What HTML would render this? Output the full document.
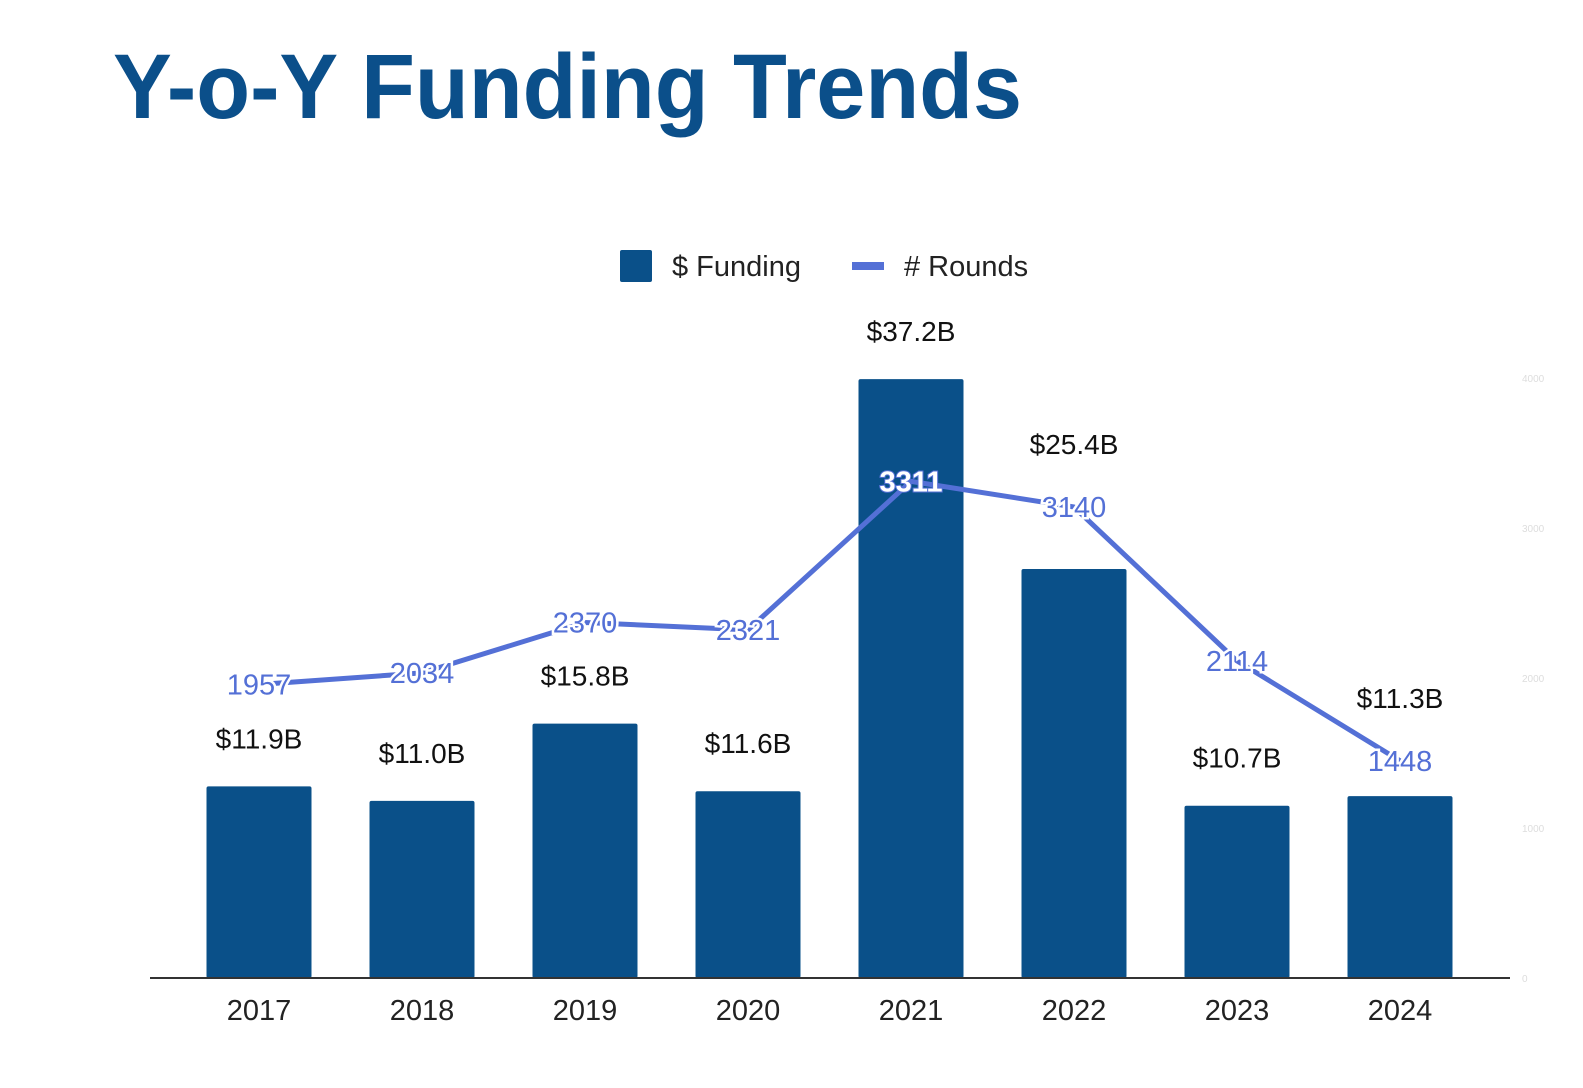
<!DOCTYPE html>
<html><head><meta charset="utf-8"><style>
html,body{margin:0;padding:0;background:#fff;overflow:hidden;}
svg{display:block;font-family:"Liberation Sans",sans-serif;}
</style></head><body>
<svg id="chart" width="1583" height="1088" viewBox="0 0 1583 1088" xmlns="http://www.w3.org/2000/svg">
<text x="113" y="118" font-size="92" font-weight="bold" fill="#0b4f8a" textLength="909" lengthAdjust="spacingAndGlyphs">Y-o-Y Funding Trends</text>
<g>
<rect x="620" y="250" width="32" height="32" rx="2" fill="#0a5089"/>
<text x="672" y="276" font-size="29" fill="#222">$ Funding</text>
<rect x="852" y="262" width="32" height="8" fill="#5470d6"/>
<text x="904" y="276" font-size="29" fill="#222">#&#160;Rounds</text>
</g>
<g id="bars"></g><g id="line"></g><g id="labels"></g><g id="axes"></g>
</svg>
<script>
const years=["2017","2018","2019","2020","2021","2022","2023","2024"];
const funding=[11.9,11.0,15.8,11.6,37.2,25.4,10.7,11.3];
const fundingLabels=["$11.9B","$11.0B","$15.8B","$11.6B","$37.2B","$25.4B","$10.7B","$11.3B"];
const rounds=[1957,2034,2370,2321,3311,3140,2114,1448];
const rightTicks=[0,1000,2000,3000,4000];
const NS="http://www.w3.org/2000/svg";
const base=978,x0=259,step=163.0,bw=105;
const xS=i=>x0+i*step;
const yL=v=>base-v*16.1;
const yR=v=>base-v*0.15;
function mk(t,a,p){const e=document.createElementNS(NS,t);for(const k in a)e.setAttribute(k,a[k]);p.appendChild(e);return e;}
const bars=document.getElementById('bars'),line=document.getElementById('line'),labels=document.getElementById('labels'),axes=document.getElementById('axes');
funding.forEach((v,i)=>{
 const r=mk('rect',{x:xS(i)-bw/2,y:yL(v),width:bw,height:base-yL(v),fill:'#0a5089',rx:2},bars);
 
 
 let cy=yL(v)-48;
 const rc=yR(rounds[i]);
 if(Math.abs(cy-rc)<40) cy=rc-63;
 const t=mk('text',{x:xS(i),y:cy+10,'font-size':28,'text-anchor':'middle',fill:'#111'},labels);
 t.textContent=fundingLabels[i];
 
 
 const xt=mk('text',{x:xS(i),y:1020,'font-size':29,'text-anchor':'middle',fill:'#222'},axes);
 xt.textContent=years[i];
 
 
});
const pl=mk('polyline',{points:rounds.map((v,i)=>xS(i)+','+yR(v)).join(' '),fill:'none',stroke:'#5470d6','stroke-width':5,'stroke-linejoin':'round'},line);


rounds.forEach((v,i)=>{
 const t=mk('text',{x:xS(i),y:yR(v)+10,'font-size':29,'text-anchor':'middle',fill:i==4?'#ffffff':'#5470d6',stroke:i==4?'#5470d6':'#ffffff','stroke-width':i==4?2:5,'paint-order':'stroke','font-weight':i==4?'bold':'normal'},labels);
 t.textContent=v;
 
 
});
const ax=mk('line',{x1:150,x2:1510,y1:base,y2:base,stroke:'#333','stroke-width':2},axes);


rightTicks.forEach(v=>{
 const t=mk('text',{x:1522,y:yR(v)+4,'font-size':10,fill:'#ddd'},axes);
 t.textContent=v;
 
 
});
</script>
</body></html>
